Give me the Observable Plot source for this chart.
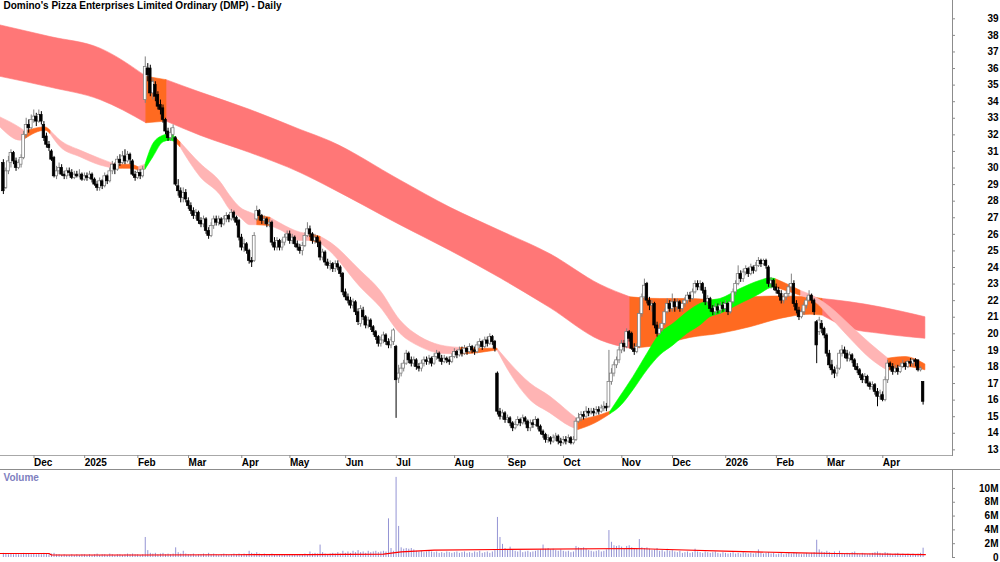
<!DOCTYPE html>
<html><head><meta charset="utf-8">
<script src="https://cdn.jsdelivr.net/npm/d3@7"></script>
<script src="https://cdn.jsdelivr.net/npm/@observablehq/plot@0.6"></script>
<style>
body{margin:0;background:#fff;}
#chart{width:1000px;height:562px;overflow:hidden;background:#fff;}
#chart svg{display:block;}
#volwrap{border-top:1px solid #8c8c8c;}
</style></head><body><div id="chart"></div>
<script>
const title = "Domino's Pizza Enterprises Limited Ordinary (DMP) - Daily";

// month labels (trading-day index of first session of each month)
const monthStart = [12, 32, 53, 73, 94, 113, 135, 155, 178, 199, 221, 244, 264, 285, 305, 325, 347];
const monthLabel = ["Dec","2025","Feb","Mar","Apr","May","Jun","Jul","Aug","Sep","Oct","Nov","Dec","2026","Feb","Mar","Apr"];
const priceTicks = [13,14,15,16,17,18,19,20,21,22,23,24,25,26,27,28,29,30,31,32,33,34,35,36,37,38,39];
const volTicks = [0,2,4,6,8,10];
const volTickLabels = ["0","2M","4M","6M","8M","10M"];

const opens = [
30.3,28.8,29.8,30.3,30.9,30.4,30.0,30.2,30.6,32.0,
32.6,32.4,32.9,33.1,32.8,33.2,32.6,31.9,31.4,31.0,
30.6,29.5,29.8,30.0,29.6,29.5,29.8,29.7,29.4,29.6,
29.5,29.6,29.3,29.5,29.4,29.6,29.3,29.0,28.8,29.2,
28.9,29.5,29.2,29.8,30.2,29.9,30.5,30.3,30.7,30.4,
30.8,30.4,29.6,29.4,29.7,29.5,34.1,36.0,36.0,34.5,
35.0,34.4,33.8,33.6,32.9,32.2,31.8,32.0,31.8,28.9,
28.6,28.2,28.5,28.0,27.7,27.4,27.1,27.3,26.8,26.6,
26.9,26.2,25.9,26.5,26.9,26.7,26.9,26.6,26.9,27.1,
26.9,27.3,27.0,26.8,25.8,25.2,25.4,25.0,24.4,24.4,
26.9,27.4,27.1,26.8,26.9,26.6,26.7,25.5,25.2,25.6,
25.2,25.5,25.8,26.0,25.6,25.8,25.4,25.2,25.0,25.3,
25.9,26.3,26.0,25.6,25.8,25.5,24.6,24.9,24.3,24.1,
24.2,23.9,24.2,24.0,23.6,22.5,22.2,22.0,21.7,21.9,
21.3,20.6,21.4,21.0,20.5,20.8,20.4,20.1,19.8,19.4,
19.6,19.9,19.5,19.3,19.5,19.2,17.3,17.6,17.9,18.2,
18.8,18.4,18.2,18.4,18.0,17.9,18.2,18.4,18.3,18.5,
18.2,18.6,18.8,18.5,18.3,18.5,18.4,18.3,18.6,18.9,
18.7,19.0,18.8,19.1,18.9,19.2,19.0,18.9,19.3,19.5,
19.2,19.6,19.4,19.8,19.5,17.6,15.3,15.0,15.2,14.8,
14.9,14.6,14.3,14.5,14.8,14.6,14.9,14.7,14.3,14.6,
14.5,14.8,14.4,14.1,13.9,13.6,13.7,13.5,13.7,13.8,
13.5,13.4,13.6,13.5,13.7,13.4,13.6,14.7,14.9,15.1,
15.0,15.3,15.2,15.3,15.2,15.4,15.3,15.5,15.6,15.6,
17.1,17.6,18.1,18.4,19.0,19.4,19.2,20.1,20.0,19.1,
18.9,19.2,21.2,22.2,23.0,22.0,21.7,21.8,20.5,20.0,
20.3,20.6,21.3,21.8,21.5,21.9,21.6,21.9,21.5,21.8,
22.0,22.3,22.1,22.5,23.0,22.8,23.0,22.6,21.9,22.1,
21.5,21.3,21.6,21.4,21.7,21.5,21.8,21.3,21.9,22.5,
23.0,23.6,23.3,23.7,23.9,23.6,24.0,23.8,24.1,24.4,
24.2,24.4,24.0,23.0,23.2,22.8,22.6,22.4,22.0,22.2,
22.4,22.8,23.0,21.8,21.4,21.0,21.3,21.7,22.0,22.3,
22.0,20.7,20.1,20.6,20.3,19.9,18.8,18.1,17.8,17.6,
17.9,18.8,19.0,18.8,18.5,18.7,18.4,18.0,17.8,17.5,
17.2,17.4,17.0,16.8,16.9,16.5,16.2,16.3,16.0,17.2,
18.2,18.0,17.7,17.9,17.7,18.0,18.2,18.0,18.3,18.2,
18.4,18.4,17.8,17.1];

const closes = [
28.6,29.8,30.4,30.9,30.4,30.0,30.3,30.6,32.0,32.6,
32.4,32.9,33.1,32.8,33.2,32.8,31.8,31.4,31.2,30.5,
29.5,29.8,30.0,29.6,29.5,29.8,29.7,29.4,29.6,29.5,
29.6,29.3,29.5,29.4,29.6,29.3,29.0,28.8,29.2,28.9,
29.5,29.2,29.8,30.2,29.9,30.5,30.3,30.7,30.4,30.8,
30.5,29.6,29.4,29.7,29.5,29.9,36.1,35.6,34.5,35.2,
34.3,33.7,33.5,32.9,32.2,31.8,32.1,32.4,29.0,28.6,
28.2,28.5,28.1,27.7,27.4,27.1,27.3,26.8,26.6,26.9,
26.2,25.9,26.5,26.9,26.7,26.9,26.6,26.9,27.1,26.9,
27.3,27.0,26.7,25.8,25.2,25.4,25.0,24.4,24.3,25.9,
27.4,27.1,26.8,26.9,26.6,26.7,25.5,25.2,25.6,25.2,
25.5,25.8,26.0,25.6,25.8,25.4,25.2,25.0,25.3,25.9,
26.3,26.0,25.6,25.8,25.5,24.6,24.9,24.3,24.1,24.2,
23.9,24.2,24.0,23.6,22.5,22.2,22.0,21.7,21.9,21.3,
20.7,21.5,21.0,20.5,20.8,20.4,20.1,19.8,19.4,19.6,
19.9,19.5,19.3,19.6,20.2,17.2,17.6,17.9,18.2,18.8,
18.4,18.2,18.4,18.0,17.9,18.2,18.4,18.3,18.5,18.2,
18.6,18.8,18.5,18.3,18.5,18.4,18.3,18.6,18.9,18.7,
19.0,18.8,19.1,18.9,19.2,19.0,18.9,19.3,19.5,19.2,
19.6,19.4,19.8,19.5,19.1,15.3,15.0,15.2,14.8,14.9,
14.6,14.3,14.5,14.8,14.6,14.9,14.7,14.3,14.6,14.5,
14.8,14.4,14.1,13.9,13.6,13.7,13.5,13.7,13.8,13.5,
13.4,13.6,13.5,13.7,13.4,13.6,14.7,14.9,15.1,15.0,
15.3,15.2,15.3,15.2,15.4,15.3,15.5,15.6,15.5,17.1,
17.6,18.1,18.4,19.0,19.4,19.2,20.1,19.7,19.1,18.9,
19.2,21.2,22.2,22.9,22.0,21.7,21.8,20.5,20.0,20.3,
20.6,21.3,21.8,21.5,21.9,21.6,21.9,21.5,21.8,22.0,
22.3,22.1,22.5,23.0,22.8,23.0,22.6,21.9,22.1,21.5,
21.3,21.6,21.4,21.7,21.5,21.8,21.3,21.9,22.5,23.0,
23.6,23.3,23.7,23.9,23.6,24.0,23.8,24.1,24.4,24.2,
24.4,24.1,23.0,23.2,22.8,22.6,22.4,22.0,22.2,22.4,
22.8,23.0,21.8,21.4,21.0,21.3,21.7,22.0,22.3,22.0,
21.3,19.3,20.8,20.3,19.9,18.8,18.1,17.8,17.6,17.9,
18.8,19.0,18.8,18.5,18.7,18.4,18.0,17.8,17.5,17.2,
17.4,17.0,16.8,16.9,16.5,16.2,16.4,16.0,17.2,18.2,
18.0,17.7,17.9,17.7,18.0,18.2,18.0,18.3,18.2,18.4,
18.3,17.8,17.9,15.9];

const highs = [
30.5,30.0,30.7,31.1,31.0,30.6,30.5,30.8,32.2,33.0,
32.9,33.2,33.5,33.3,33.5,33.4,32.8,32.1,31.6,31.1,
30.7,30.1,30.3,30.2,29.8,30.0,30.0,29.9,29.8,29.8,
29.9,29.7,29.7,29.7,29.8,29.7,29.4,29.2,29.4,29.3,
29.7,29.6,30.0,30.4,30.3,30.7,30.8,31.0,31.1,31.0,
30.9,30.5,29.8,29.9,29.9,30.1,36.7,36.3,36.2,35.4,
35.2,34.6,34.1,33.8,33.0,32.4,32.4,32.6,31.9,29.3,
28.8,28.8,28.7,28.2,27.9,27.6,27.5,27.4,27.0,27.1,
27.0,26.4,26.7,27.1,27.1,27.1,27.0,27.1,27.3,27.2,
27.5,27.4,27.1,26.9,26.0,25.7,25.5,25.1,24.6,26.1,
27.7,27.5,27.2,27.1,27.0,26.9,26.8,25.8,25.8,25.7,
25.7,26.0,26.2,26.2,26.0,25.9,25.6,25.4,25.5,26.1,
26.7,26.5,26.1,26.0,25.9,25.6,25.1,25.0,24.5,24.4,
24.3,24.4,24.4,24.1,23.7,22.7,22.4,22.2,22.1,22.0,
21.5,21.7,21.6,21.1,21.0,20.9,20.5,20.2,19.9,19.8,
20.1,20.0,19.7,19.8,20.3,19.3,18.1,18.2,18.4,19.0,
18.9,18.6,18.6,18.5,18.2,18.4,18.6,18.6,18.7,18.6,
18.8,19.0,18.9,18.7,18.7,18.6,18.6,18.8,19.1,19.0,
19.2,19.2,19.3,19.2,19.4,19.3,19.2,19.5,19.7,19.6,
19.8,19.8,20.0,19.9,19.6,17.7,15.5,15.4,15.3,15.1,
15.0,14.7,14.7,15.0,14.9,15.1,15.0,14.8,14.8,14.8,
15.0,14.9,14.5,14.2,14.0,13.9,13.8,13.9,14.0,13.9,
13.7,13.8,13.8,13.9,13.8,13.8,14.9,15.2,15.3,15.3,
15.6,15.5,15.5,15.5,15.6,15.6,15.7,15.9,15.8,19.0,
17.9,18.3,18.6,19.2,19.6,19.6,20.3,20.2,20.1,19.4,
19.4,21.4,22.4,23.3,23.1,22.2,22.0,21.9,20.7,20.6,
20.8,21.5,22.1,22.0,22.4,22.1,22.1,22.0,22.0,22.2,
22.5,22.5,22.7,23.2,23.2,23.2,23.1,22.8,22.3,22.2,
21.7,21.8,21.8,21.9,21.9,22.0,21.9,22.1,22.7,23.2,
24.1,23.8,23.9,24.1,24.0,24.2,24.1,24.3,24.6,24.5,
24.5,24.5,24.1,23.4,23.3,23.0,22.8,22.6,22.4,22.6,
23.0,23.6,23.2,22.0,21.6,21.5,21.9,22.2,22.6,22.4,
22.1,20.8,21.0,20.8,20.4,20.0,19.0,18.4,18.0,18.1,
19.0,19.3,19.2,19.0,18.9,18.8,18.5,18.2,17.9,17.6,
17.6,17.5,17.1,17.1,17.0,16.7,16.6,16.5,17.4,18.4,
18.3,18.2,18.1,18.1,18.2,18.4,18.3,18.4,18.5,18.5,
18.5,18.4,18.0,17.1];

const lows = [
28.4,28.7,29.6,30.0,30.2,29.8,29.9,30.0,30.5,31.8,
32.1,32.3,32.7,32.5,32.7,32.6,31.6,31.2,31.0,30.4,
29.4,29.3,29.6,29.5,29.3,29.3,29.5,29.3,29.3,29.4,
29.4,29.2,29.2,29.2,29.3,29.1,28.9,28.6,28.6,28.7,
28.8,29.0,29.1,29.6,29.6,29.8,30.1,30.2,30.2,30.3,
30.2,29.5,29.2,29.3,29.3,29.4,33.9,35.2,34.3,34.1,
34.0,33.5,33.2,32.7,32.0,31.6,31.6,31.7,28.9,28.3,
27.9,27.9,27.9,27.5,27.2,26.9,26.9,26.6,26.4,26.4,
26.0,25.7,25.8,26.3,26.5,26.5,26.4,26.5,26.7,26.7,
26.8,26.8,26.5,25.6,25.0,24.9,24.8,24.2,24.0,24.3,
26.8,26.8,26.6,26.6,26.4,26.4,25.3,25.0,25.0,25.0,
25.0,25.3,25.6,25.4,25.4,25.2,25.0,24.8,24.7,25.2,
25.8,25.8,25.4,25.4,25.2,24.4,24.4,24.1,23.9,23.8,
23.7,23.7,23.8,23.4,22.3,22.0,21.8,21.5,21.5,21.1,
20.5,20.4,20.8,20.3,20.3,20.2,19.9,19.6,19.2,19.2,
19.4,19.3,19.1,19.1,19.3,14.9,17.0,17.4,17.7,18.1,
18.2,18.0,18.0,17.8,17.7,17.7,18.0,18.1,18.1,18.0,
18.1,18.4,18.3,18.1,18.2,18.2,18.1,18.2,18.5,18.5,
18.6,18.6,18.7,18.7,18.8,18.8,18.7,18.8,19.1,19.0,
19.1,19.2,19.3,19.3,18.9,15.1,14.8,14.8,14.6,14.6,
14.4,14.1,14.2,14.4,14.4,14.5,14.5,14.1,14.1,14.3,
14.4,14.2,13.9,13.7,13.4,13.4,13.3,13.4,13.5,13.3,
13.2,13.3,13.3,13.4,13.3,13.3,13.5,14.6,14.7,14.8,
14.9,15.0,15.1,15.0,15.1,15.1,15.2,15.3,15.3,15.5,
16.9,17.4,17.9,18.2,18.8,18.9,19.1,19.5,19.0,18.7,
18.8,19.1,21.0,22.0,21.8,21.4,21.3,20.3,19.8,19.9,
20.1,20.5,21.2,21.3,21.3,21.3,21.4,21.3,21.3,21.6,
21.8,21.9,22.0,22.4,22.6,22.6,22.4,21.7,21.7,21.3,
21.1,21.1,21.2,21.2,21.3,21.3,21.1,21.2,21.8,22.3,
22.9,23.1,23.1,23.5,23.4,23.5,23.6,23.7,24.0,24.0,
24.1,23.9,22.8,22.7,22.6,22.4,22.2,21.8,21.8,22.0,
22.2,22.6,21.6,21.2,20.8,20.9,21.1,21.5,21.9,21.8,
21.1,18.2,19.9,20.0,19.7,18.6,17.9,17.5,17.3,17.4,
17.8,18.6,18.5,18.3,18.3,18.2,17.8,17.6,17.3,17.0,
17.0,16.8,16.6,16.6,16.3,15.6,16.0,15.9,15.9,17.0,
17.8,17.5,17.6,17.5,17.6,17.9,17.8,17.9,18.0,18.0,
18.0,17.7,17.7,15.7];

// volume, millions of shares
const volumes = [
0.6,0.5,0.4,0.5,0.4,0.5,0.4,0.4,0.6,0.5,
0.5,0.4,0.5,0.4,0.5,0.4,0.6,0.5,0.4,0.5,
0.6,0.4,0.4,0.3,0.4,0.3,0.3,0.4,0.3,0.4,
0.3,0.4,0.4,0.3,0.4,0.3,0.4,0.5,0.3,0.4,
0.4,0.3,0.5,0.4,0.3,0.4,0.4,0.3,0.4,0.5,
0.4,0.5,0.4,0.4,0.3,0.4,2.9,1.0,0.6,0.5,
0.6,0.4,0.5,0.6,0.4,0.5,0.4,0.5,1.4,0.7,
0.5,0.9,0.5,0.4,0.4,0.5,0.3,0.4,0.4,0.5,
0.4,0.6,0.4,0.5,0.4,0.3,0.4,0.5,0.4,0.3,
0.4,0.5,0.4,0.5,0.4,0.5,0.4,0.9,0.6,0.5,
0.7,0.5,0.4,0.5,0.4,0.3,0.5,0.4,0.4,0.3,
0.4,0.3,0.4,0.4,0.3,0.4,0.3,0.4,0.4,0.5,
0.4,0.8,0.5,0.6,0.5,1.8,0.7,0.5,0.4,0.5,
0.6,0.5,0.7,0.5,0.9,0.6,0.8,0.6,0.9,0.7,
1.0,0.7,0.8,0.6,0.9,0.7,0.8,0.9,0.7,0.8,
0.9,0.8,5.6,1.3,0.9,11.6,4.5,1.4,1.2,1.3,
1.2,1.3,1.1,0.9,0.8,0.9,0.7,0.8,0.9,0.8,
0.7,0.8,0.6,0.7,0.6,0.8,0.7,0.6,0.7,0.8,
0.6,0.7,0.8,0.6,0.7,0.6,0.8,0.7,0.9,0.6,
0.7,0.8,0.6,0.8,1.0,5.8,2.9,1.9,1.3,1.0,
1.5,1.1,0.9,0.8,1.0,0.7,0.8,0.9,0.7,0.8,
0.9,1.0,1.1,1.8,1.2,1.3,1.1,1.2,1.0,0.9,
1.1,0.9,0.8,0.9,0.7,0.8,1.6,1.4,1.3,1.4,
1.2,1.0,0.9,0.8,0.9,1.0,0.8,0.9,1.1,3.9,
2.2,1.7,1.6,1.7,1.5,1.2,1.6,1.7,1.4,1.2,
1.3,2.6,1.4,1.3,1.4,1.2,1.0,1.1,1.3,0.9,
1.0,0.8,1.2,0.9,1.0,0.8,0.7,0.9,0.6,0.7,
0.8,0.6,0.7,1.2,0.8,0.7,0.6,0.8,0.7,0.6,
0.7,0.8,0.6,0.5,0.7,0.6,0.5,0.6,0.7,0.5,
0.6,0.5,0.7,0.6,0.5,0.6,0.5,0.6,1.1,0.6,
0.5,0.6,0.7,0.5,0.6,0.4,0.5,0.6,0.4,0.5,
0.6,0.5,0.7,0.6,0.5,0.4,0.5,0.6,0.5,0.6,
0.7,2.5,1.1,0.8,0.7,0.9,0.7,0.6,0.8,0.5,
0.9,0.6,0.5,0.6,0.5,0.7,0.8,0.5,0.4,0.6,
0.5,0.4,0.5,0.6,0.7,0.8,0.6,0.5,0.7,0.6,
0.5,0.4,0.5,0.6,0.4,0.5,0.4,0.5,0.4,0.5,
0.4,0.5,0.6,1.35];

// volume moving average
const volAvgIdx = [-1.13, 18, 19, 56, 90, 120, 150, 157, 170, 195, 249, 262, 288, 314, 328, 363.9];
const volAvgVal = [0.58, 0.58, 0.36, 0.36, 0.40, 0.43, 0.50, 0.82, 1.06, 1.16, 1.30, 1.16, 0.90, 0.67, 0.58, 0.43];

// long-term ribbon: edges and state between samples (F = falling, M = mixed)
const longIdx = [-1.13, 18.6, 38.3, 56.5, 64.4, 77.8, 97.5, 117.3, 129.1, 156.7, 176.5, 196.2, 215.9, 235.7, 247.5, 259.3, 271.1, 283.0, 294.9, 306.7, 318.5, 323.3, 334.3, 346.1, 363.9];
const longTop = [38.6, 37.9, 37.2, 35.5, 35.3, 34.55, 33.5, 32.3, 31.6, 29.25, 27.6, 26.2, 24.8, 22.95, 22.2, 22.1, 22.1, 22.0, 22.2, 22.25, 22.2, 22.1, 21.9, 21.6, 21.0];
const longBot = [35.5, 34.85, 34.1, 32.7, 32.8, 31.95, 30.9, 29.7, 28.8, 26.55, 25.0, 23.35, 21.55, 19.6, 19.1, 19.3, 19.75, 20.0, 20.4, 20.9, 21.15, 21.1, 20.3, 20.0, 19.7];
const longState = "FFFMFFFFFFFFFFMMMMMMMFFF".split("");

// short-term ribbon (F = falling, M = mixed, R = rising)
const shortIdx = [-1.13, 6.8, 8.7, 16.6, 18.6, 22.6, 30.4, 38.3, 44.3, 50.2, 53.3, 56.1, 59.2, 63.2, 66.0, 67.9, 69.9, 77.8, 85.7, 89.6, 93.6, 97.5, 100.3, 105.4, 109.4, 117.3, 121.2, 125.2, 129.1, 141.0, 148.8, 156.7, 164.6, 172.5, 180.4, 188.3, 195.0, 200.1, 208.0, 215.9, 223.8, 227.0, 233.7, 239.6, 243.5, 248.7, 254.2, 259.3, 264.5, 270.0, 275.1, 279.0, 283.0, 290.9, 298.8, 302.7, 304.7, 310.6, 314.6, 320.5, 326.4, 334.3, 342.2, 349.3, 356.0, 363.9];
const shortTop = [33.05, 32.4, 32.2, 32.45, 32.25, 31.65, 31.05, 30.55, 30.2, 30.2, 30.05, 30.2, 31.45, 31.95, 32.05, 31.85, 31.55, 30.25, 29.15, 28.3, 27.6, 27.3, 27.15, 27.0, 26.65, 26.1, 26.0, 25.85, 25.5, 23.8, 22.6, 20.8, 19.8, 19.3, 19.15, 19.1, 19.1, 18.2, 17.0, 16.2, 15.2, 14.8, 15.0, 15.3, 16.2, 17.4, 18.8, 20.0, 20.6, 21.3, 21.8, 22.0, 22.1, 22.7, 23.2, 23.35, 23.3, 22.9, 22.6, 22.2, 21.6, 20.5, 19.4, 18.5, 18.6, 18.15];
const shortBot = [32.45, 31.65, 31.75, 32.25, 32.05, 31.25, 30.65, 30.15, 29.95, 29.95, 29.85, 29.9, 30.65, 31.55, 31.65, 31.55, 31.25, 29.45, 28.35, 27.45, 27.0, 26.55, 26.55, 26.5, 26.25, 25.6, 25.6, 25.45, 24.95, 22.8, 21.6, 20.0, 19.2, 18.8, 18.75, 18.85, 19.0, 17.6, 16.0, 15.2, 14.4, 14.2, 14.6, 15.15, 15.6, 16.6, 17.8, 18.7, 19.3, 20.0, 20.5, 21.0, 21.2, 21.8, 22.4, 22.75, 22.8, 22.5, 22.3, 21.9, 21.0, 19.7, 18.5, 17.75, 18.0, 17.8];
const shortState = "FFMMFFFFMMFRRRRMFFFFFFMFFFMFFFFFFFMMFFFFFMMRRRRRRRRRRRRRMMFFFFFMM".split("");

// ---------- styling ----------
const FONT = "'Liberation Sans', Arial, Helvetica, sans-serif";
const longColors = {F: "#ff7777", M: "#ff6a20"};
const shortColors = {F: "#ffb4b4", M: "#ff6a20", R: "#00ff00"};
const xDomain = [-1.13, 374.6];

// ---------- build tables ----------
const candles = closes.map((c, i) => ({i, o: opens[i], h: highs[i], l: lows[i], c, up: c >= opens[i]}));
const upC = candles.filter(d => d.up), dnC = candles.filter(d => !d.up);
const volRows = volumes.map((v, i) => ({i, v}));
const volAvgRows = volAvgIdx.map((i, k) => ({i, v: volAvgVal[k]}));

function bandRows(idx, top, bot, state) {
  const rows = []; let g = -1;
  for (let k = 0; k < state.length; k++) {
    if (k === 0 || state[k] !== state[k - 1]) { g++; rows.push({i: idx[k], top: top[k], bot: bot[k], state: state[k], g}); }
    rows.push({i: idx[k + 1], top: top[k + 1], bot: bot[k + 1], state: state[k], g});
  }
  return rows;
}
function bandMarks(rows, colors) {
  return Object.keys(colors).map(s => Plot.areaY(rows.filter(r => r.state === s),
    {x: "i", y1: "bot", y2: "top", z: "g", fill: colors[s], stroke: colors[s], strokeWidth: 0.6, curve: "monotone-x"}));
}
const longRows = bandRows(longIdx, longTop, longBot, longState);
const shortRows = bandRows(shortIdx, shortTop, shortBot, shortState);

const labelOf = new Map(monthStart.map((m, k) => [m - 0.5, monthLabel[k]]));

const price = Plot.plot({
  width: 1000, height: 469,
  marginLeft: 0, marginRight: 48, marginTop: 0, marginBottom: 14,
  style: {fontFamily: FONT, fontSize: "10px", fontWeight: "bold", background: "#fff", color: "#000"},
  x: {domain: xDomain, axis: null},
  y: {domain: [12.66, 40.104], axis: null},
  marks: [
    ...bandMarks(longRows, longColors),
    ...bandMarks(shortRows, shortColors),
    Plot.ruleX(upC, {x: "i", y1: "l", y2: "h", stroke: "#808080", strokeWidth: 1}),
    Plot.ruleX(dnC, {x: "i", y1: "l", y2: "h", stroke: "#000", strokeWidth: 1}),
    Plot.rect(upC, {x1: d => d.i - 0.55, x2: d => d.i + 0.55, y1: "o", y2: "c", fill: "#fff", stroke: "#808080", strokeWidth: 0.8}),
    Plot.rect(dnC, {x1: d => d.i - 0.5, x2: d => d.i + 0.5, y1: "o", y2: "c", fill: "#000", stroke: "#000", strokeWidth: 0.7}),
    Plot.frame({anchor: "bottom", stroke: "#a8a8a8"}),
    Plot.frame({anchor: "right", stroke: "#8c8c8c"}),
    Plot.axisY({anchor: "right", label: null, ticks: priceTicks, tickFormat: d => String(d), tickSize: 2, tickPadding: 44, textAnchor: "end", stroke: "#8c8c8c", fontWeight: "bold", fontSize: 10}),
    Plot.axisX({anchor: "bottom", label: null, ticks: monthStart.map(m => m - 0.5), tickFormat: d => labelOf.get(d), tickSize: 3, tickPadding: 0, textAnchor: "start", dx: 1.5, stroke: "#8c8c8c", fontWeight: "bold", fontSize: 10}),
    Plot.text([title], {frameAnchor: "top-left", text: d => d, dx: 3, dy: 1.5, lineAnchor: "top", textAnchor: "start", fontSize: 10, fontWeight: "bold", fill: "#000"})
  ]
});

const vol = Plot.plot({
  width: 1000, height: 92,
  marginLeft: 0, marginRight: 48, marginTop: 0, marginBottom: 5,
  style: {fontFamily: FONT, fontSize: "10px", fontWeight: "bold", background: "#fff", color: "#000"},
  x: {domain: xDomain, axis: null},
  y: {domain: [0, 12.6], axis: null},
  marks: [
    Plot.ruleX(volRows, {x: "i", y1: d => 0, y2: "v", stroke: "#9494d4", strokeWidth: 1}),
    Plot.line(volAvgRows, {x: "i", y: "v", stroke: "#ff0000", strokeWidth: 1.2}),
    Plot.frame({anchor: "right", stroke: "#8c8c8c"}),
    Plot.axisY({anchor: "right", label: null, ticks: volTicks, tickFormat: d => volTickLabels[volTicks.indexOf(d)], tickSize: 2, tickPadding: 44, textAnchor: "end", stroke: "#8c8c8c", fontWeight: "bold", fontSize: 10}),
    Plot.text(["Volume"], {frameAnchor: "top-left", text: d => d, dx: 3, dy: 3, lineAnchor: "top", textAnchor: "start", fontSize: 10, fontWeight: "bold", fill: "#8080c0"})
  ]
});

const chart = document.getElementById("chart");
chart.appendChild(price);
const wrap = document.createElement("div");
wrap.id = "volwrap";
wrap.appendChild(vol);
chart.appendChild(wrap);
</script>
</body></html>
